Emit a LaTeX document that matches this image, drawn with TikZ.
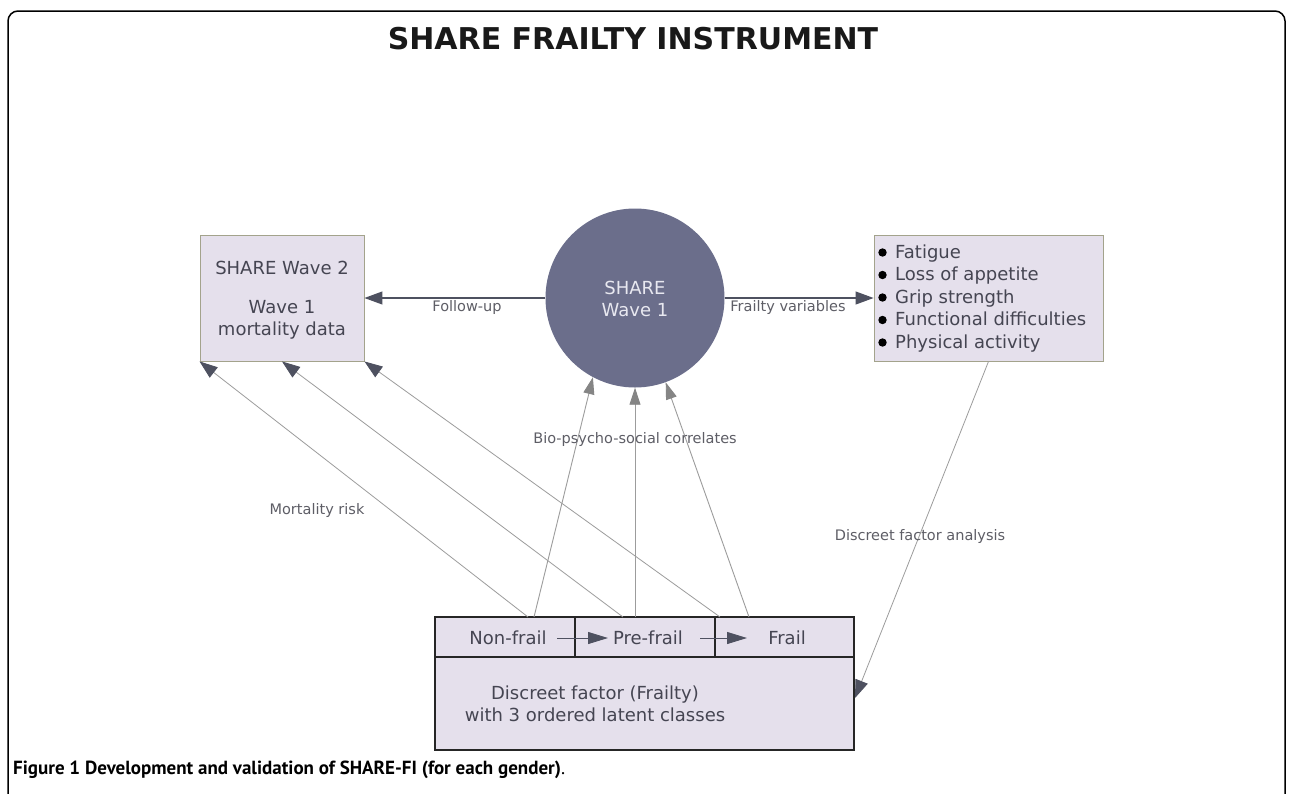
\documentclass[tikz,border=0pt]{standalone}
\usepackage{fontspec}
\setmainfont{DejaVu Sans}
\newfontfamily\capfont{PT Sans}
\usetikzlibrary{arrows.meta}
\definecolor{boxfill}{HTML}{E5E0EC}
\definecolor{boxedge}{HTML}{A3A38C}
\definecolor{circ}{HTML}{6B6E8B}
\definecolor{darkarr}{HTML}{4E5160}
\definecolor{grayln}{HTML}{9C9C9C}
\definecolor{grayarr}{HTML}{858585}
\definecolor{txt}{HTML}{454552}
\definecolor{lbl}{HTML}{5E5E66}
\definecolor{circtxt}{HTML}{E8E8F0}
\tikzset{
  topbox/.style={draw=boxedge, fill=boxfill, line width=0.9pt, inner sep=0pt},
  cell/.style={draw=black!85, fill=boxfill, line width=1.8pt, inner sep=0pt},
  boxtext/.style={text=txt, font=\fontsize{18}{22}\selectfont, inner sep=0pt},
  lbltext/.style={text=lbl, font=\fontsize{14.5}{17}\selectfont, inner sep=0pt},
  darkline/.style={draw=darkarr, line width=1.1pt, -{Triangle[length=18pt,width=13pt]}},
  mortline/.style={draw=grayln, line width=0.8pt, -{Triangle[length=18pt,width=13pt,color=darkarr,fill=darkarr]}},
  bioline/.style={draw=grayln, line width=0.9pt, -{Triangle[length=17pt,width=11pt,color=grayarr,fill=grayarr]}},
  smallarr/.style={draw=darkarr, line width=0.9pt, -{Triangle[length=20pt,width=12pt]}},
}
\begin{document}
\begin{tikzpicture}[x=1pt,y=-1pt]
\useasboundingbox (0,0) rectangle (1290,793);
\fill[white] (0,0) rectangle (1290,793);
\begin{scope}
\clip (0,0) rectangle (1290,793);
\draw[line width=1.5pt, rounded corners=10pt] (8,11) rectangle (1285,830);
\end{scope}

% title
\node[font=\fontsize{30}{34}\bfseries, text=black!90, inner sep=0pt] (title) at (633,39) {SHARE FRAILTY INSTRUMENT};

% main nodes
\node[topbox, minimum width=164pt, minimum height=126pt] (w2) at (282,298) {};
\node[boxtext] (w2a) at (282,268) {SHARE Wave 2};
\node[boxtext, align=center] (w2b) at (282,320) {Wave 1\\mortality data};

\node[circle, fill=circ, minimum size=179pt, inner sep=0pt] (w1) at (635,298) {};
\node[text=circtxt, font=\fontsize{18}{22}\selectfont, align=center, inner sep=0pt] (w1t) at (635,299) {SHARE\\Wave 1};

\node[topbox, minimum width=229pt, minimum height=126pt] (fv) at (988.5,298) {};
\foreach \i/\t in {0/Fatigue,1/Loss of appetite,2/Grip strength,3/Functional difficulties,4/Physical activity}{
  \fill[black] (882.5,{252.5+22.5*\i}) circle (4.2pt);
  \node[boxtext, anchor=base west] (fv\i) at (895,{258+22.5*\i}) {\t};
}

% bottom box
\node[cell, minimum width=140pt, minimum height=40pt] (nf) at (505,637) {};
\node[cell, minimum width=140pt, minimum height=40pt] (pf) at (645,637) {};
\node[cell, minimum width=139pt, minimum height=40pt] (fr) at (784.5,637) {};
\node[cell, minimum width=419pt, minimum height=93pt] (df) at (644.5,703.5) {};
\node[boxtext] (nft) at (508,638) {Non-frail};
\node[boxtext] (pft) at (648,638) {Pre-frail};
\node[boxtext] (frt) at (787,638) {Frail};
\node[boxtext, align=center] (dft) at (595,704) {Discreet factor (Frailty)\\with 3 ordered latent classes};

\coordinate (a1s) at (557,638); \coordinate (a1e) at (608,638);
\coordinate (a2s) at (700,638); \coordinate (a2e) at (747,638);
\draw[smallarr] (a1s) -- (a1e);
\draw[smallarr] (a2s) -- (a2e);

% connectors
\draw[darkline] (w1.west) -- (w2.east);
\draw[darkline] (w1.east) -- (fv.west);
\node[lbltext] (lfu) at (467,307) {Follow-up};
\node[lbltext] (lfv) at (788,307) {Frailty variables};

\coordinate (m1) at (528,617); \coordinate (m2) at (623,617); \coordinate (m3) at (720,617);
\coordinate (b1) at (534,617); \coordinate (b2) at (635,617); \coordinate (b3) at (749,617);
\draw[mortline] (m1) -- (w2.south west);
\draw[mortline] (m2) -- (w2.south);
\draw[mortline] (m3) -- (w2.south east);
\draw[bioline] (b1) -- (w1.242);
\draw[bioline] (b2) -- (w1.south);
\draw[bioline] (b3) -- (w1.290.6);

\coordinate (dfa) at (855,698);
\draw[mortline] (fv.south) -- (dfa);

\node[lbltext] (lbio) at (635,439) {Bio-psycho-social correlates};
\node[lbltext] (lmr) at (317,510) {Mortality risk};
\node[lbltext] (ldfa) at (920,536) {Discreet factor analysis};

% caption
\node[anchor=west, inner sep=0pt, font=\capfont\fontsize{19}{22}\selectfont] (cap) at (13,770) {\textbf{Figure 1 Development and validation of SHARE-FI (for each gender)}.};
\end{tikzpicture}
\end{document}
